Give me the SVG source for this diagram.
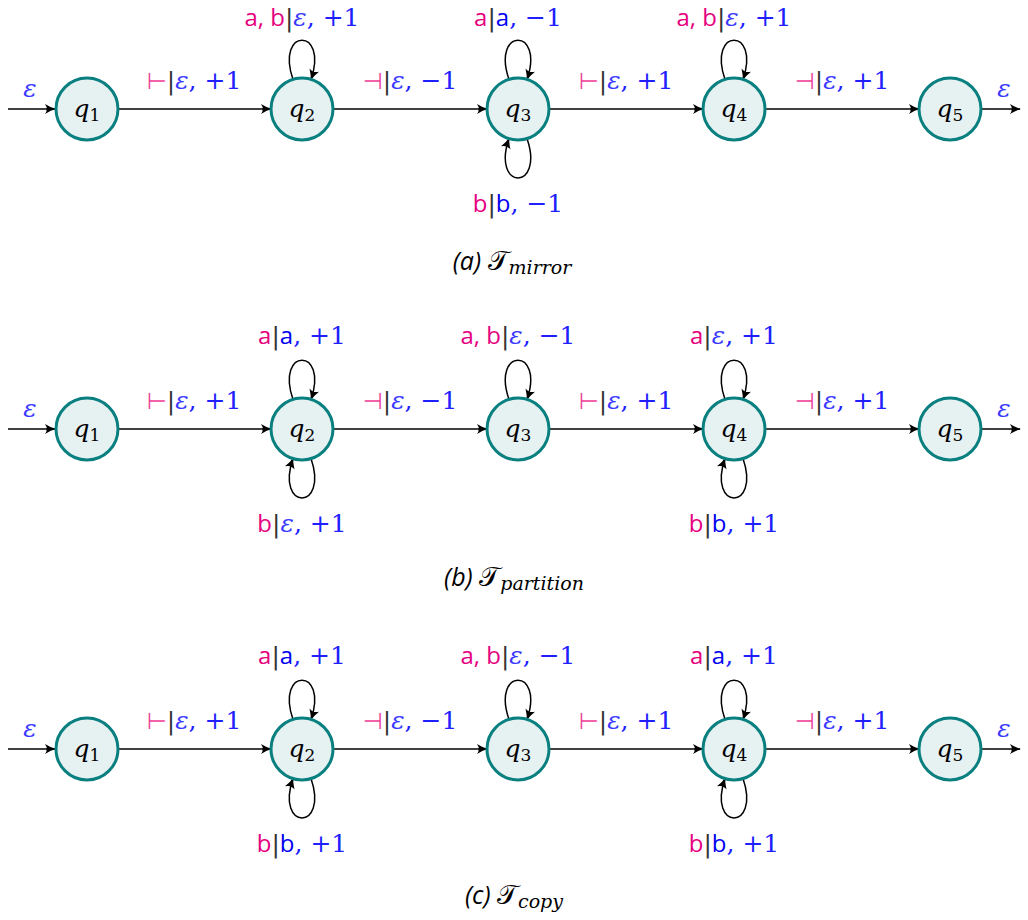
<svg xmlns="http://www.w3.org/2000/svg" width="1028" height="920" viewBox="0 0 1028 920">
<defs>
<marker id="arr" viewBox="-11 -6 13 12" refX="0" refY="0" markerWidth="13" markerHeight="12" markerUnits="userSpaceOnUse" orient="auto">
<path d="M-10,-5 Q-4,-1.2 1,0 Q-4,1.2 -10,5 Q-6.5,0 -10,-5Z" fill="#000"/>
</marker>
</defs>
<style>
.n circle{fill:#e6f1f1;stroke:#0a7f7f;stroke-width:3}
.n text{font-family:"DejaVu Serif","Liberation Serif",serif;font-size:25px;font-style:italic;text-anchor:middle;fill:#000}
.n .sub{font-style:normal;font-size:17px}
.e{fill:none;stroke:#000;stroke-width:1.5;marker-end:url(#arr)}
.l{font-size:25px;text-anchor:middle;font-family:"DejaVu Serif","Liberation Serif",serif}
.in{font-family:"Open Sans","DejaVu Sans",sans-serif;fill:#e6007e;font-size:24px}
.tk{font-family:"DejaVu Sans",sans-serif;fill:#f0409a;font-size:23px}
.ou{font-family:"Open Sans","DejaVu Sans",sans-serif;fill:#0000f0;font-size:24px}
.mt{fill:#2020ff}
.ep{fill:#3a3aff;font-style:italic}
.bar{fill:#333}
.cap{font-family:"Open Sans","DejaVu Sans",sans-serif;font-style:italic;font-size:25px;text-anchor:middle}
.cal{font-family:"DejaVu Sans","Noto Sans",serif;font-style:normal;font-size:27px}
.cs{font-family:"DejaVu Serif","Liberation Serif",serif;font-size:19px}
</style>

<!-- ===== Row (a) mirror ===== -->
<g id="connectors-a">
<path class="e" d="M8,109 H55"/>
<path class="e" d="M118,109 H271"/>
<path class="e" d="M333,109 H487"/>
<path class="e" d="M549,109 H703"/>
<path class="e" d="M765,109 H919"/>
<path class="e" d="M981,109 H1020"/>
<path class="e" d="M293,79.5 C275,27 329,27 311,79.5"/>
<path class="e" d="M509,79.5 C491,27 545,27 527,79.5"/>
<path class="e" d="M527,138.5 C545,191 491,191 509,138.5"/>
<path class="e" d="M725,79.5 C707,27 761,27 743,79.5"/>
<text class="l" x="30" y="97"><tspan class="ep">ε</tspan></text>
<text class="l" x="1004" y="97"><tspan class="ep">ε</tspan></text>
<text class="l" x="194" y="89"><tspan class="tk">⊢</tspan><tspan class="bar">|</tspan><tspan class="ep">ε</tspan><tspan class="mt">, +1</tspan></text>
<text class="l" x="410" y="89"><tspan class="tk">⊣</tspan><tspan class="bar">|</tspan><tspan class="ep">ε</tspan><tspan class="mt">, −1</tspan></text>
<text class="l" x="626" y="89"><tspan class="tk">⊢</tspan><tspan class="bar">|</tspan><tspan class="ep">ε</tspan><tspan class="mt">, +1</tspan></text>
<text class="l" x="842" y="89"><tspan class="tk">⊣</tspan><tspan class="bar">|</tspan><tspan class="ep">ε</tspan><tspan class="mt">, +1</tspan></text>
<text class="l" x="302" y="26"><tspan class="in">a, b</tspan><tspan class="bar">|</tspan><tspan class="ep">ε</tspan><tspan class="mt">, +1</tspan></text>
<text class="l" x="518" y="26"><tspan class="in">a</tspan><tspan class="bar">|</tspan><tspan class="ou">a</tspan><tspan class="mt">, −1</tspan></text>
<text class="l" x="518" y="212"><tspan class="in">b</tspan><tspan class="bar">|</tspan><tspan class="ou">b</tspan><tspan class="mt">, −1</tspan></text>
<text class="l" x="734" y="26"><tspan class="in">a, b</tspan><tspan class="bar">|</tspan><tspan class="ep">ε</tspan><tspan class="mt">, +1</tspan></text>
</g>
<g id="a-q1" class="n"><circle cx="87" cy="109" r="31"/><text x="87" y="117">q<tspan class="sub" dy="4">1</tspan></text></g>
<g id="a-q2" class="n"><circle cx="302" cy="109" r="31"/><text x="302" y="117">q<tspan class="sub" dy="4">2</tspan></text></g>
<g id="a-q3" class="n"><circle cx="518" cy="109" r="31"/><text x="518" y="117">q<tspan class="sub" dy="4">3</tspan></text></g>
<g id="a-q4" class="n"><circle cx="734" cy="109" r="31"/><text x="734" y="117">q<tspan class="sub" dy="4">4</tspan></text></g>
<g id="a-q5" class="n"><circle cx="950" cy="109" r="31"/><text x="950" y="117">q<tspan class="sub" dy="4">5</tspan></text></g>
<text id="cap-a" class="cap" x="512" y="270">(a) <tspan class="cal">𝒯</tspan><tspan class="cs" dy="4">mirror</tspan></text>

<!-- ===== Row (b) partition ===== -->
<g id="connectors-b">
<path class="e" d="M8,429 H55"/>
<path class="e" d="M118,429 H271"/>
<path class="e" d="M333,429 H487"/>
<path class="e" d="M549,429 H703"/>
<path class="e" d="M765,429 H919"/>
<path class="e" d="M981,429 H1020"/>
<path class="e" d="M293,399.5 C275,347 329,347 311,399.5"/>
<path class="e" d="M311,458.5 C329,511 275,511 293,458.5"/>
<path class="e" d="M509,399.5 C491,347 545,347 527,399.5"/>
<path class="e" d="M725,399.5 C707,347 761,347 743,399.5"/>
<path class="e" d="M743,458.5 C761,511 707,511 725,458.5"/>
<text class="l" x="30" y="417"><tspan class="ep">ε</tspan></text>
<text class="l" x="1004" y="417"><tspan class="ep">ε</tspan></text>
<text class="l" x="194" y="409"><tspan class="tk">⊢</tspan><tspan class="bar">|</tspan><tspan class="ep">ε</tspan><tspan class="mt">, +1</tspan></text>
<text class="l" x="410" y="409"><tspan class="tk">⊣</tspan><tspan class="bar">|</tspan><tspan class="ep">ε</tspan><tspan class="mt">, −1</tspan></text>
<text class="l" x="626" y="409"><tspan class="tk">⊢</tspan><tspan class="bar">|</tspan><tspan class="ep">ε</tspan><tspan class="mt">, +1</tspan></text>
<text class="l" x="842" y="409"><tspan class="tk">⊣</tspan><tspan class="bar">|</tspan><tspan class="ep">ε</tspan><tspan class="mt">, +1</tspan></text>
<text class="l" x="302" y="344"><tspan class="in">a</tspan><tspan class="bar">|</tspan><tspan class="ou">a</tspan><tspan class="mt">, +1</tspan></text>
<text class="l" x="302" y="532"><tspan class="in">b</tspan><tspan class="bar">|</tspan><tspan class="ep">ε</tspan><tspan class="mt">, +1</tspan></text>
<text class="l" x="518" y="344"><tspan class="in">a, b</tspan><tspan class="bar">|</tspan><tspan class="ep">ε</tspan><tspan class="mt">, −1</tspan></text>
<text class="l" x="734" y="344"><tspan class="in">a</tspan><tspan class="bar">|</tspan><tspan class="ep">ε</tspan><tspan class="mt">, +1</tspan></text>
<text class="l" x="734" y="532"><tspan class="in">b</tspan><tspan class="bar">|</tspan><tspan class="ou">b</tspan><tspan class="mt">, +1</tspan></text>
</g>
<g id="b-q1" class="n"><circle cx="87" cy="429" r="31"/><text x="87" y="437">q<tspan class="sub" dy="4">1</tspan></text></g>
<g id="b-q2" class="n"><circle cx="302" cy="429" r="31"/><text x="302" y="437">q<tspan class="sub" dy="4">2</tspan></text></g>
<g id="b-q3" class="n"><circle cx="518" cy="429" r="31"/><text x="518" y="437">q<tspan class="sub" dy="4">3</tspan></text></g>
<g id="b-q4" class="n"><circle cx="734" cy="429" r="31"/><text x="734" y="437">q<tspan class="sub" dy="4">4</tspan></text></g>
<g id="b-q5" class="n"><circle cx="950" cy="429" r="31"/><text x="950" y="437">q<tspan class="sub" dy="4">5</tspan></text></g>
<text id="cap-b" class="cap" x="514" y="586">(b) <tspan class="cal">𝒯</tspan><tspan class="cs" dy="4">partition</tspan></text>

<!-- ===== Row (c) copy ===== -->
<g id="connectors-c">
<path class="e" d="M8,749 H55"/>
<path class="e" d="M118,749 H271"/>
<path class="e" d="M333,749 H487"/>
<path class="e" d="M549,749 H703"/>
<path class="e" d="M765,749 H919"/>
<path class="e" d="M981,749 H1020"/>
<path class="e" d="M293,719.5 C275,667 329,667 311,719.5"/>
<path class="e" d="M311,778.5 C329,831 275,831 293,778.5"/>
<path class="e" d="M509,719.5 C491,667 545,667 527,719.5"/>
<path class="e" d="M725,719.5 C707,667 761,667 743,719.5"/>
<path class="e" d="M743,778.5 C761,831 707,831 725,778.5"/>
<text class="l" x="30" y="737"><tspan class="ep">ε</tspan></text>
<text class="l" x="1004" y="737"><tspan class="ep">ε</tspan></text>
<text class="l" x="194" y="729"><tspan class="tk">⊢</tspan><tspan class="bar">|</tspan><tspan class="ep">ε</tspan><tspan class="mt">, +1</tspan></text>
<text class="l" x="410" y="729"><tspan class="tk">⊣</tspan><tspan class="bar">|</tspan><tspan class="ep">ε</tspan><tspan class="mt">, −1</tspan></text>
<text class="l" x="626" y="729"><tspan class="tk">⊢</tspan><tspan class="bar">|</tspan><tspan class="ep">ε</tspan><tspan class="mt">, +1</tspan></text>
<text class="l" x="842" y="729"><tspan class="tk">⊣</tspan><tspan class="bar">|</tspan><tspan class="ep">ε</tspan><tspan class="mt">, +1</tspan></text>
<text class="l" x="302" y="664"><tspan class="in">a</tspan><tspan class="bar">|</tspan><tspan class="ou">a</tspan><tspan class="mt">, +1</tspan></text>
<text class="l" x="302" y="852"><tspan class="in">b</tspan><tspan class="bar">|</tspan><tspan class="ou">b</tspan><tspan class="mt">, +1</tspan></text>
<text class="l" x="518" y="664"><tspan class="in">a, b</tspan><tspan class="bar">|</tspan><tspan class="ep">ε</tspan><tspan class="mt">, −1</tspan></text>
<text class="l" x="734" y="664"><tspan class="in">a</tspan><tspan class="bar">|</tspan><tspan class="ou">a</tspan><tspan class="mt">, +1</tspan></text>
<text class="l" x="734" y="852"><tspan class="in">b</tspan><tspan class="bar">|</tspan><tspan class="ou">b</tspan><tspan class="mt">, +1</tspan></text>
</g>
<g id="c-q1" class="n"><circle cx="87" cy="749" r="31"/><text x="87" y="757">q<tspan class="sub" dy="4">1</tspan></text></g>
<g id="c-q2" class="n"><circle cx="302" cy="749" r="31"/><text x="302" y="757">q<tspan class="sub" dy="4">2</tspan></text></g>
<g id="c-q3" class="n"><circle cx="518" cy="749" r="31"/><text x="518" y="757">q<tspan class="sub" dy="4">3</tspan></text></g>
<g id="c-q4" class="n"><circle cx="734" cy="749" r="31"/><text x="734" y="757">q<tspan class="sub" dy="4">4</tspan></text></g>
<g id="c-q5" class="n"><circle cx="950" cy="749" r="31"/><text x="950" y="757">q<tspan class="sub" dy="4">5</tspan></text></g>
<text id="cap-c" class="cap" x="514" y="904">(c) <tspan class="cal">𝒯</tspan><tspan class="cs" dy="4">copy</tspan></text>
</svg>
